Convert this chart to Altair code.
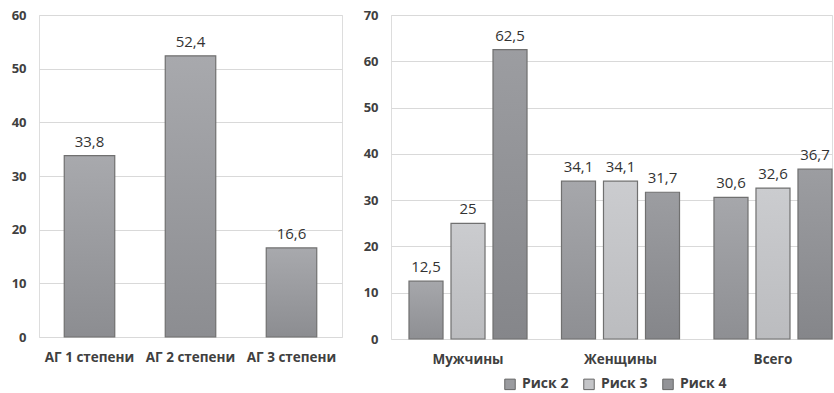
import altair as alt
import pandas as pd

# Left chart data
ag_categories = ["АГ 1 степени", "АГ 2 степени", "АГ 3 степени"]
ag_values = [33.8, 52.4, 16.6]

# Right chart data
groups = ["Мужчины", "Женщины", "Всего"]
series = ["Риск 2", "Риск 3", "Риск 4"]
risk2 = [12.5, 34.1, 30.6]
risk3 = [25, 34.1, 32.6]
risk4 = [62.5, 31.7, 36.7]

FONT = "Open Sans"


def fmt(v):
    return f"{v:g}".replace(".", ",")


def grad(top, bottom):
    return alt.Gradient(
        gradient="linear",
        stops=[alt.GradientStop(color=top, offset=0), alt.GradientStop(color=bottom, offset=1)],
        x1=0, x2=0, y1=0, y2=1,
    )


left_df = pd.DataFrame({"cat": ag_categories, "val": ag_values})
left_df["lab"] = [fmt(v) for v in ag_values]

yaxis = lambda mx: alt.Axis(
    values=list(range(0, mx + 1, 10)), ticks=False, domain=False, labelPadding=13,
    gridColor="#d9d9d9", gridWidth=1.2, labelFontSize=13, labelFont=FONT,
    labelColor="#404040", labelFontWeight="bold", title=None,
)
xaxis = alt.Axis(ticks=False, domain=False, labelAngle=0, labelFontSize=13.5, labelFont=FONT,
                 labelColor="#404040", labelFontWeight="bold", labelPadding=13, title=None)

lx = alt.X("cat:N", sort=ag_categories, axis=xaxis,
           scale=alt.Scale(paddingInner=0.5, paddingOuter=0.25))
ly = alt.Y("val:Q", axis=yaxis(60), scale=alt.Scale(domain=[0, 60], nice=False))

left_bars = alt.Chart(left_df).mark_bar(
    fill=grad("#a8a9ad", "#8c8d91"), stroke="#707070", strokeWidth=1.2
).encode(x=lx, y=ly)
left_text = alt.Chart(left_df).mark_text(
    dy=-14, fontSize=15, font=FONT, color="#333333"
).encode(x=lx, y=ly, text="lab:N")
left = (left_bars + left_text).properties(width=303, height=322)

# Right chart
rows = []
for s, vals in zip(series, [risk2, risk3, risk4]):
    for g, v in zip(groups, vals):
        rows.append({"grp": g, "ser": s, "val": v, "lab": fmt(v)})
right_df = pd.DataFrame(rows)

rx = alt.X("grp:N", sort=groups, axis=xaxis,
           scale=alt.Scale(paddingInner=0.226, paddingOuter=0.059, align=1))
rxo = alt.XOffset("ser:N", sort=series, scale=alt.Scale(paddingInner=0.19, paddingOuter=0))
ry = alt.Y("val:Q", axis=yaxis(70), scale=alt.Scale(domain=[0, 70], nice=False))

grads = {
    "Риск 2": grad("#a6a7ab", "#8e8f93"),
    "Риск 3": grad("#cbcccf", "#bbbcbf"),
    "Риск 4": grad("#9c9da1", "#85868a"),
}
solid = ["#9a9b9f", "#c4c5c8", "#929397"]

layers = []
for s in series:
    layers.append(
        alt.Chart(right_df).transform_filter(alt.datum.ser == s).mark_bar(
            fill=grads[s], stroke="#707070", strokeWidth=1.2
        ).encode(x=rx, xOffset=rxo, y=ry)
    )

legend_layer = alt.Chart(right_df).mark_bar(opacity=0).encode(
    x=rx, xOffset=rxo, y=ry,
    color=alt.Color("ser:N", sort=series,
                    scale=alt.Scale(domain=series, range=solid),
                    legend=alt.Legend(
                        title=None, orient="none", direction="horizontal",
                        legendX=464, legendY=362, symbolType="square", symbolSize=110,
                        symbolOpacity=1, symbolStrokeColor="#666666", symbolStrokeWidth=1,
                        labelFont=FONT, labelFontSize=14, labelFontWeight="bold",
                        labelColor="#404040", columnPadding=12, labelOffset=5,
                    )),
)
right_text = alt.Chart(right_df).mark_text(
    dy=-14, fontSize=15, font=FONT, color="#333333"
).encode(x=rx, xOffset=rxo, y=ry, text="lab:N")

right = alt.layer(*layers, legend_layer, right_text).properties(width=441, height=324)

chart = alt.hconcat(left, right, spacing=19).configure_view(stroke=None).configure(
    padding={"left": 10, "top": 8, "right": 0, "bottom": 0}, background="white"
)

chart.save("out.html", embed_options={"renderer": "svg", "actions": False})
